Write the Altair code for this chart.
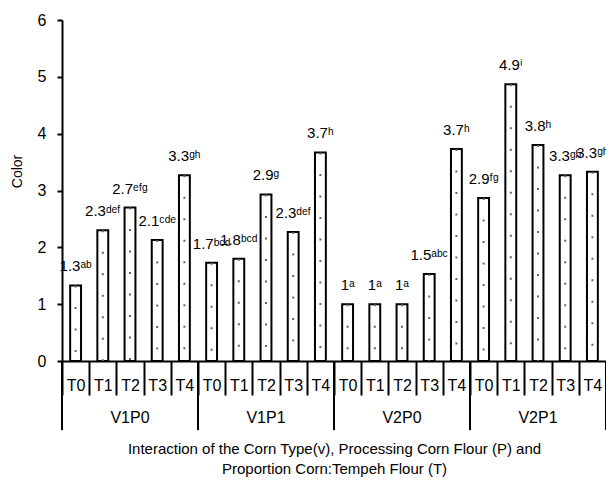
import altair as alt
import pandas as pd

groups = ["V1P0", "V1P1", "V2P0", "V2P1"]
treatments = ["T0", "T1", "T2", "T3", "T4"]

v1p0_values = [1.33, 2.30, 2.70, 2.13, 3.27]
v1p1_values = [1.73, 1.80, 2.93, 2.27, 3.67]
v2p0_values = [1.00, 1.00, 1.00, 1.53, 3.73]
v2p1_values = [2.87, 4.87, 3.80, 3.27, 3.33]

v1p0_numbers = ["1.3", "2.3", "2.7", "2.1", "3.3"]
v1p1_numbers = ["1.7", "1.8", "2.9", "2.3", "3.7"]
v2p0_numbers = ["1", "1", "1", "1.5", "3.7"]
v2p1_numbers = ["2.9", "4.9", "3.8", "3.3", "3.3"]

v1p0_letters = ["ab", "def", "efg", "cde", "gh"]
v1p1_letters = ["bcd", "bcd", "g", "def", "h"]
v2p0_letters = ["a", "a", "a", "abc", "h"]
v2p1_letters = ["fg", "i", "h", "gh", "gh"]

x_title = ["Interaction of the Corn Type(v), Processing Corn Flour (P) and",
           "Proportion Corn:Tempeh Flour (T)"]

SUP = {"a": "ᵃ", "b": "ᵇ", "c": "ᶜ", "d": "ᵈ", "e": "ᵉ", "f": "ᶠ",
       "g": "ᵍ", "h": "ʰ", "i": "ⁱ"}

all_values = [v1p0_values, v1p1_values, v2p0_values, v2p1_values]
all_numbers = [v1p0_numbers, v1p1_numbers, v2p0_numbers, v2p1_numbers]
all_letters = [v1p0_letters, v1p1_letters, v2p0_letters, v2p1_letters]

rows = []
for g, vals, nums, lets in zip(groups, all_values, all_numbers, all_letters):
    for t, v, n, l in zip(treatments, vals, nums, lets):
        rows.append({"cat": f"{g}-{t}", "group": g, "value": v,
                     "label": n + "".join(SUP[c] for c in l)})
df = pd.DataFrame(rows)
cats = list(df["cat"])

mid_df = pd.DataFrame({"group": groups, "cat": [f"{g}-T2" for g in groups]})
start_df = pd.DataFrame({"cat": [f"{g}-T0" for g in groups]})
end_df = pd.DataFrame({"cat": [cats[-1]]})

W, H = 544, 341

x_axis = alt.Axis(
    title=x_title, labelExpr="split(datum.label, '-')[1]", labelAngle=0,
    tickBand="extent", tickSize=34, tickWidth=2, tickColor="black",
    domainColor="black", domainWidth=2, labelFontSize=16, labelColor="black",
    labelBaseline="middle", labelPadding=-10, titleFontSize=15,
    titleFontWeight="normal", titleColor="black", titleLineHeight=20,
    titleY=80, titleBaseline="top")
y_axis = alt.Axis(
    values=[0, 1, 2, 3, 4, 5, 6], format="d", grid=False, domainColor="black",
    domainWidth=2, tickColor="black", tickWidth=2, tickSize=5, labelFontSize=16,
    labelColor="black", labelPadding=11, title="Color", titleFontSize=14,
    titleFontWeight="normal", titleColor="black", titleX=-38, titleY=151)

xscale = alt.Scale(paddingInner=0, paddingOuter=0)
base = alt.Chart(df)

bars = base.mark_bar(width=alt.RelativeBandSize(0.4), fill="white",
                     stroke="black", strokeWidth=2).encode(
    x=alt.X("cat:N", sort=cats, scale=xscale, axis=x_axis),
    y=alt.Y("value:Q", scale=alt.Scale(domain=[0, 6]), axis=y_axis),
)
dots = base.mark_rule(color="#666666", strokeWidth=2, strokeDash=[2, 19.5]).encode(
    x=alt.X("cat:N", sort=cats),
    y=alt.Y("value:Q"),
    y2=alt.datum(0),
)
labels = base.mark_text(fontSize=15, baseline="alphabetic", dy=-14,
                        color="black").encode(
    x=alt.X("cat:N", sort=cats),
    y=alt.Y("value:Q"),
    text="label:N",
)
group_text = alt.Chart(mid_df).mark_text(fontSize=16, baseline="middle",
                                         color="black").encode(
    x=alt.X("cat:N", sort=cats),
    y=alt.value(H + 57),
    text="group:N",
)
group_lines = alt.Chart(start_df).mark_rule(color="black", strokeWidth=2).encode(
    x=alt.X("cat:N", sort=cats, bandPosition=0),
    y=alt.value(H),
    y2=alt.value(H + 69),
)
end_line = alt.Chart(end_df).mark_rule(color="black", strokeWidth=2).encode(
    x=alt.X("cat:N", sort=cats, bandPosition=1),
    y=alt.value(H),
    y2=alt.value(H + 69),
)

chart = alt.layer(bars, dots, labels, group_text, group_lines, end_line).properties(
    width=W, height=H,
    autosize=alt.AutoSizeParams(type="none"),
    padding={"left": 54, "top": 12, "right": 0, "bottom": 117},
).configure(font="Liberation Sans").configure_view(strokeWidth=0)

chart.save("out.html", embed_options={"renderer": "svg", "actions": False})
